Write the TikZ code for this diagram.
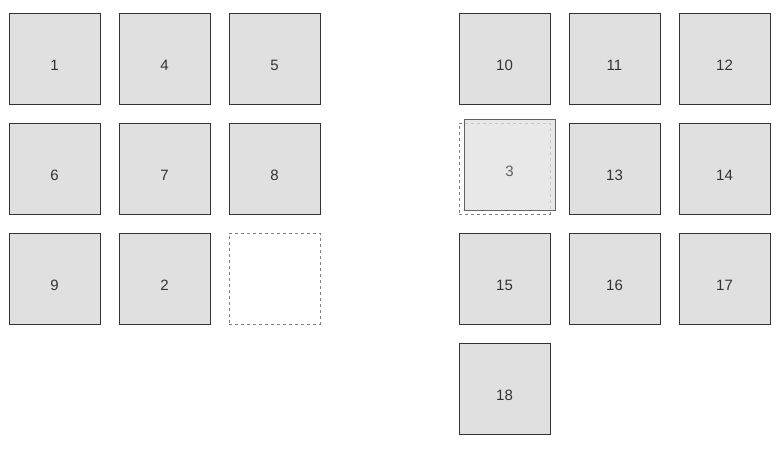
\documentclass[tikz,border=0pt]{standalone}
\usepackage{fontspec}
\setmainfont{Liberation Sans}
\definecolor{tilefill}{HTML}{E0E0E0}
\definecolor{tileline}{HTML}{333333}
\definecolor{slotline}{HTML}{808080}
\tikzset{
  tile/.style={draw=tileline, fill=tilefill, minimum size=91pt, inner sep=0pt,
    text=tileline, font=\fontsize{15}{18}\selectfont, text height=23pt, text depth=0pt},
  slot/.style={draw=slotline, dashed, minimum size=91pt, inner sep=0pt},
  lifted/.style={tile, opacity=0.75}
}
\begin{document}
\begin{tikzpicture}[x=1pt, y=-1pt]
    \useasboundingbox (0,0) rectangle (780,448);
    % left grid
    \node[tile] (1) at (54.5,58.5) {1};
    \node[tile] (4) at (164.5,58.5) {4};
    \node[tile] (5) at (274.5,58.5) {5};
    \node[tile] (6) at (54.5,168.5) {6};
    \node[tile] (7) at (164.5,168.5) {7};
    \node[tile] (8) at (274.5,168.5) {8};
    \node[tile] (9) at (54.5,278.5) {9};
    \node[tile] (2) at (164.5,278.5) {2};
    \node[slot] (free) at (274.5,278.5) {};

    % right grid
    \node[tile] (10) at (504.5,58.5) {10};
    \node[tile] (11) at (614.5,58.5) {11};
    \node[tile] (12) at (724.5,58.5) {12};
    \node[slot] (hole) at (504.5,168.5) {};
    \node[tile] (13) at (614.5,168.5) {13};
    \node[tile] (14) at (724.5,168.5) {14};
    \node[tile] (15) at (504.5,278.5) {15};
    \node[tile] (16) at (614.5,278.5) {16};
    \node[tile] (17) at (724.5,278.5) {17};
    \node[tile] (18) at (504.5,388.5) {18};

    % the tile being dragged
    \node[lifted] (3) at (509.5,164.5) {3};
\end{tikzpicture}
\end{document}
